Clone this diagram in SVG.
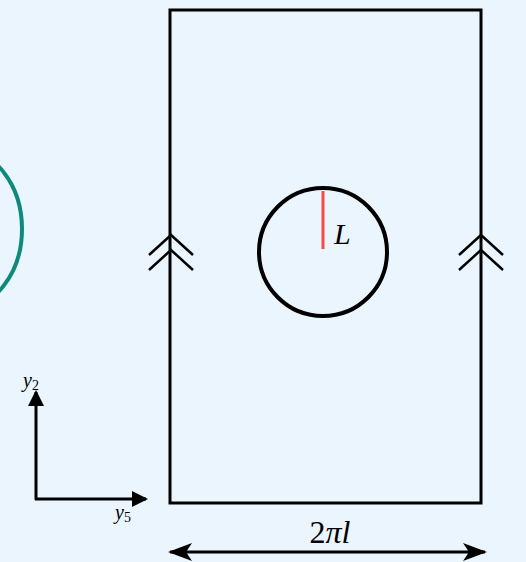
<svg xmlns="http://www.w3.org/2000/svg" width="526" height="562" viewBox="0 0 526 562">
<style>
.ln{fill:none;stroke:#000;stroke-width:3}
.chev{fill:none;stroke:#000;stroke-width:2.5}
.math{font-family:"Liberation Serif","DejaVu Serif",serif;font-style:italic;fill:#000}
</style>
<defs>
<marker id="tri" markerWidth="16" markerHeight="16" refX="14" refY="8" orient="auto" markerUnits="userSpaceOnUse" viewBox="0 0 16 16">
<path d="M0,0 L16,8 L0,16 Z" fill="#000"/>
</marker>
<marker id="stealth" markerWidth="24" markerHeight="18" refX="22" refY="9" orient="auto-start-reverse" markerUnits="userSpaceOnUse" viewBox="0 0 24 18">
<path d="M0,0 L24,9 L0,18 L6,9 Z" fill="#000"/>
</marker>
</defs>
<rect width="526" height="562" fill="#ebf5fe"/>
<g id="loop">
<ellipse cx="-40" cy="229" rx="62" ry="80" fill="none" stroke="#0e8a7c" stroke-width="4"/>
</g>
<g id="cylinder">
<rect x="170" y="10" width="311" height="493" class="ln"/>
</g>
<g id="hole">
<circle cx="323" cy="252" r="64" fill="none" stroke="#000" stroke-width="4"/>
<line x1="323" y1="191" x2="323" y2="249" stroke="#f44a4a" stroke-width="3"/>
<text x="334" y="244" class="math" font-size="30">L</text>
</g>
<g id="identification">
<path class="chev" d="M149,255 L171,235 L193,255 M149,270 L171,250 L193,270"/>
<path class="chev" d="M459,255 L481,235 L503,255 M459,270 L481,250 L503,270"/>
</g>
<g id="axes">
<line x1="36" y1="500" x2="36" y2="392" class="ln" marker-end="url(#tri)"/>
<line x1="35" y1="499" x2="146" y2="499" class="ln" marker-end="url(#tri)"/>
<text x="23" y="387" class="math" font-size="20">y<tspan font-size="14" font-style="normal" dy="3">2</tspan></text>
<text x="115" y="519" class="math" font-size="20">y<tspan font-size="14" font-style="normal" dy="3">5</tspan></text>
</g>
<g id="connectors">
<line x1="170" y1="552" x2="485" y2="552" stroke="#000" stroke-width="3" marker-start="url(#stealth)" marker-end="url(#stealth)"/>
<text x="330" y="543" font-family="Liberation Serif,DejaVu Serif,serif" font-size="32" text-anchor="middle">2<tspan font-style="italic">πl</tspan></text>
</g>
</svg>
